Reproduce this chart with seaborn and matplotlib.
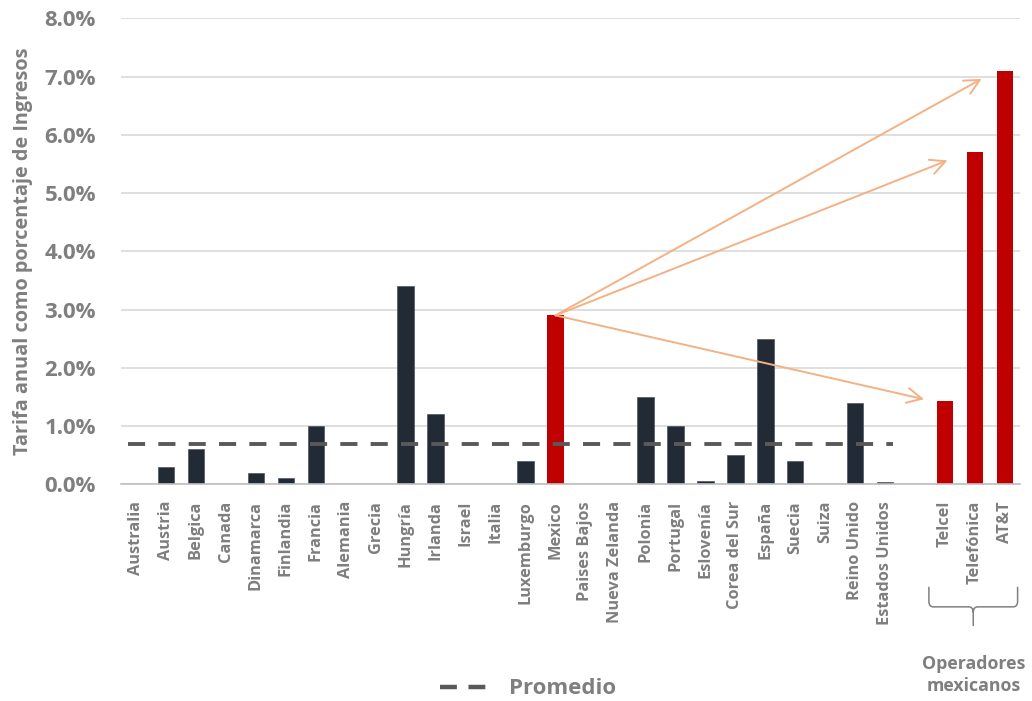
import numpy as np
import pandas as pd
import matplotlib
matplotlib.use("Agg")
import matplotlib.pyplot as plt
from matplotlib.path import Path
from matplotlib.patches import PathPatch
from matplotlib.lines import Line2D
import seaborn as sns

# ---------------- data ----------------
paises = ["Australia", "Austria", "Belgica", "Canada", "Dinamarca", "Finlandia",
          "Francia", "Alemania", "Grecia", "Hungría", "Irlanda", "Israel", "Italia",
          "Luxemburgo", "Mexico", "Paises Bajos", "Nueva Zelanda", "Polonia",
          "Portugal", "Eslovenía", "Corea del Sur", "España", "Suecia", "Suiza",
          "Reino Unido", "Estados Unidos"]
valores_paises = [0.0, 0.3, 0.6, 0.0, 0.2, 0.1, 1.0, 0.0, 0.0, 3.4, 1.2, 0.0, 0.0,
                  0.4, 2.9, 0.0, 0.0, 1.5, 1.0, 0.05, 0.5, 2.5, 0.4, 0.0, 1.4, 0.04]
operadores = ["Telcel", "Telefónica", "AT&T"]
valores_operadores = [1.43, 5.7, 7.1]
promedio = 0.69
y_ticks = [0, 1, 2, 3, 4, 5, 6, 7, 8]
destacado = "Mexico"

# arrow targets (category-position, value) next to each operator
flechas_destino = [(28.22, 6.96), (27.08, 5.56), (26.30, 1.46)]

# ---------------- styling ----------------
sns.set_theme(style="white")
plt.rcParams["font.family"] = ["Open Sans", "DejaVu Sans"]

GRAY_TXT = "#7F7F7F"
DARK = "#222A35"
RED = "#C00000"
ORANGE = "#F4B183"

order = paises + [" "] + operadores
df = pd.DataFrame({
    "cat": paises + operadores,
    "valor": valores_paises + valores_operadores,
})
df["grupo"] = np.where((df["cat"] == destacado) | df["cat"].isin(operadores), "rojo", "base")

fig = plt.figure(figsize=(10.32, 7.01), dpi=100)
ax = fig.add_axes([121 / 1032, 1 - 484.3 / 701, (1020 - 121) / 1032, 466 / 701])

sns.barplot(data=df, x="cat", y="valor", hue="grupo", order=order,
            palette={"base": DARK, "rojo": RED}, dodge=False, width=0.55,
            legend=False, ax=ax, saturation=1)
for p in ax.patches:
    fc = p.get_facecolor()
    if abs(fc[0] - 0x22 / 255) < 0.02:
        p.set_edgecolor("#4A5565")
        p.set_linewidth(0.5)
    else:
        p.set_linewidth(0)

# average line (spans the country block)
idx_first = order.index(paises[0])
idx_last = order.index(paises[-1])
sns.lineplot(x=[idx_first - 0.25, idx_last + 0.25], y=[promedio, promedio], ax=ax,
             color="#595959", linewidth=2.8, dashes=False, zorder=4)
ln = ax.lines[-1]
ln.set_dashes((4.4, 3.4))
ln.set_dash_capstyle("butt")

# axes
ax.set_ylim(0, 8)
ax.set_xlim(-0.5, len(order) - 0.5)
ax.set_yticks(y_ticks)
ax.set_yticklabels([f"{v:.1f}%" for v in y_ticks], fontsize=16,
                   fontweight="bold", color=GRAY_TXT)
ax.yaxis.grid(True, color="#D9D9D9", linewidth=1.2)
ax.set_axisbelow(True)
for s in ["left", "right", "top"]:
    ax.spines[s].set_visible(False)
ax.spines["bottom"].set_color("#BFBFBF")
ax.spines["bottom"].set_linewidth(1.2)

ax.set_xticks(range(len(order)))
ax.set_xticklabels(order, rotation=90, fontsize=11.8, fontweight="bold", color=GRAY_TXT)
ax.set_xticks(np.arange(-0.5, len(order), 1.0), minor=True)
ax.tick_params(axis="x", which="major", length=0, pad=12)
ax.tick_params(axis="x", which="minor", length=6, color="#BFBFBF", width=1.2)
ax.tick_params(axis="y", length=0, pad=18)

ax.set_xlabel("")
ax.set_ylabel("Tarifa anual como porcentaje de Ingresos", fontsize=14.3,
              fontweight="bold", color=GRAY_TXT)
ax.yaxis.set_label_coords(-0.098, 0.5)

# arrows from Mexico
mx = order.index(destacado)
my = valores_paises[paises.index(destacado)]
for tx, ty in flechas_destino:
    ax.annotate("", xy=(tx, ty), xytext=(mx, my),
                arrowprops=dict(arrowstyle="->,head_length=0.9,head_width=0.45",
                                color=ORANGE, lw=1.4, shrinkA=0, shrinkB=0),
                zorder=5)

# brace under operators
tr = ax.get_xaxis_transform()
x0 = order.index(operadores[0]) - 0.54
x1 = order.index(operadores[-1]) + 0.42
xc = (x0 + x1) / 2
yt, yb, ys = -0.22, -0.263, -0.304
c = 0.012
verts = [(x0, yt), (x0, yb + c), (x0, yb), (x0 + 0.15, yb),
         (xc - 0.15, yb), (xc, yb), (xc, yb - c),
         (xc, ys),
         (xc, yb - c), (xc, yb), (xc + 0.15, yb),
         (x1 - 0.15, yb), (x1, yb), (x1, yb + c), (x1, yt)]
codes = [Path.MOVETO, Path.LINETO, Path.CURVE3, Path.CURVE3,
         Path.LINETO, Path.CURVE3, Path.CURVE3,
         Path.LINETO,
         Path.MOVETO, Path.CURVE3, Path.CURVE3,
         Path.LINETO, Path.CURVE3, Path.CURVE3, Path.LINETO]
brace = PathPatch(Path(verts, codes), transform=tr, fill=False,
                  edgecolor="#808080", linewidth=1.1, clip_on=False)
ax.add_patch(brace)
ax.text(xc, -0.41, "Operadores\nmexicanos", transform=tr, ha="center", va="center",
        fontsize=12.8, fontweight="bold", color=GRAY_TXT, linespacing=1.3)

# legend
handle = Line2D([], [], color="#595959", linewidth=3.2, dashes=(3.8, 2.6))
fig.legend([handle], ["Promedio"], loc="center", bbox_to_anchor=(528 / 1032, 1 - 689 / 701),
           frameon=False, prop={"size": 16, "weight": "bold"}, labelcolor=GRAY_TXT,
           handlelength=2.1, handletextpad=1.0)

fig.savefig("out.png", dpi=100)
